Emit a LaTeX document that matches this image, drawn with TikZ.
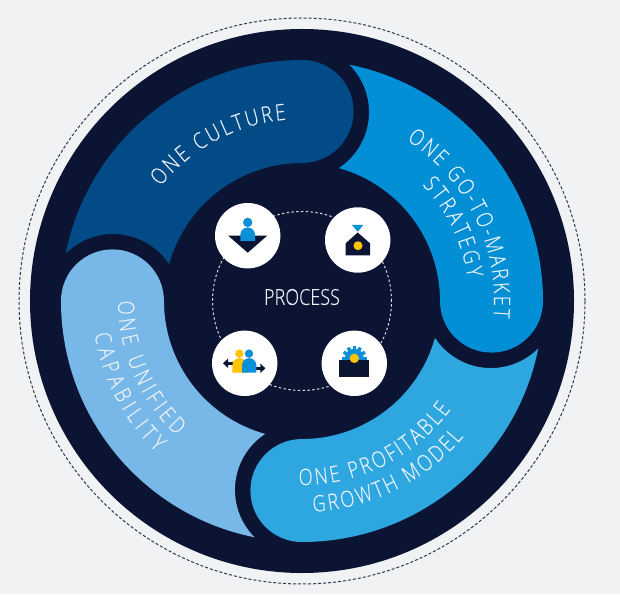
\documentclass[tikz,border=0pt]{standalone}
\usepackage{fontspec}
\usepackage{tikz}
\usetikzlibrary{decorations.text}
\usetikzlibrary{arrows.meta}
\newfontfamily\bandfont[FakeStretch=0.82, FakeBold=0.2]{Open Sans Light}
\definecolor{pagebg}{HTML}{F1F2F4}
\definecolor{navy}{HTML}{0C1433}
\definecolor{culture}{HTML}{024B87}
\definecolor{market}{HTML}{028FD5}
\definecolor{growth}{HTML}{2EA6E0}
\definecolor{unified}{HTML}{78B8E8}
\definecolor{iconblue}{HTML}{0A8FD8}
\definecolor{iconyellow}{HTML}{FFC400}
\definecolor{labelgrey}{HTML}{EAF2F8}
\newcommand{\bandtext}{\bandfont\fontsize{22.5}{26}\selectfont\color{labelgrey}}
\tikzset{
  iconcircle/.style={circle, fill=white, minimum size=65.4pt, inner sep=0pt},
  bandlabel/.style={decorate, decoration={text along path, text align={fit to path}}},
}
\begin{document}
\begin{tikzpicture}[x=1pt, y=1pt]
                \useasboundingbox (-302, -293) rectangle (318, 301);
                \fill[pagebg] (-302, -293) rectangle (318, 301);

                % Outer rings
                \draw[navy!85!white, line width=1pt, dash pattern=on 3pt off 2pt] (0, 0) circle (283);
                \fill[navy] (0, 0) circle (272);

                % Four bands, each with its round end at \a and its cut end 90 degrees on
                \foreach \a/\col in {90/culture, 180/unified, 270/growth, 0/market} {
                    \fill[\col] (\a:241)
                        arc[start angle=\a, end angle=\a+78.65, radius=241]
                        arc[start angle=\a+45, end angle=\a-56.7, radius=67]
                        arc[start angle=\a+74.53, end angle=\a, radius=138]
                        arc[start angle=\a+180, end angle=\a+360, radius=51.5];
                }

                % Band labels
                \path[bandlabel, decoration={text={|\bandtext|ONE CULTURE}}] (141:182) arc[start angle=141, end angle=95, radius=182];
                \path[bandlabel, decoration={text={|\bandtext|ONE GO-TO-MARKET}}] (57:192) arc[start angle=57, end angle=-5, radius=192];
                \path[bandlabel, decoration={text={|\bandtext|STRATEGY}}] (44:167) arc[start angle=44, end angle=8, radius=167];
                \path[bandlabel, decoration={text={|\bandtext|ONE PROFITABLE}}] (-91:184) arc[start angle=-91, end angle=-36, radius=184];
                \path[bandlabel, decoration={text={|\bandtext|GROWTH MODEL}}] (-87:211) arc[start angle=-87, end angle=-40, radius=211];
                \path[bandlabel, decoration={text={|\bandtext|ONE UNIFIED}}] (180:184) arc[start angle=180, end angle=227, radius=184];
                \path[bandlabel, decoration={text={|\bandtext|CAPABILITY}}] (189:210) arc[start angle=189, end angle=226, radius=210];

                % Inner ring and label
                \draw[white!85!navy, line width=1pt, dash pattern=on 2.4pt off 2.4pt] (0, 0) circle (89.5);
                \node[text=labelgrey, font=\bandfont\fontsize{22}{26}\selectfont] (process) at (0, 4) {PROCESS};

                \node[iconcircle] (person) at (-54.3, 65.3) {};
                \node[iconcircle] (house) at (55.7, 61) {};
                \node[iconcircle] (team) at (-57.3, -62.3) {};
                \node[iconcircle] (gear) at (52.3, -62.3) {};

                % Person over triangle
                \begin{scope}[shift={(person)}]
                    \fill[navy] (-19.5, 0) -- (19.5, 0) -- (0, -17) -- cycle;
                    \fill[iconblue] (0, 13.3) circle (4.7);
                    \fill[iconblue] (-7.3, -5.3) -- (-7.3, 1) arc[start angle=180, end angle=0, radius=7.3] -- (7.3, -5.3) -- cycle;
                \end{scope}

                % House under funnel
                \begin{scope}[shift={(house)}]
                    \fill[iconblue] (-5.7, 15) -- (5.7, 15) -- (0, 8.3) -- cycle;
                    \fill[navy] (-12, -3.3) -- (0, 7.5) -- (12.3, -3.3) -- (12.3, -15.3) -- (-12, -15.3) -- cycle;
                    \fill[iconyellow] (0.3, -5.7) circle (4.5);
                \end{scope}

                % Two people with arrows
                \begin{scope}[shift={(team)}]
                    \draw[navy, line width=2.6pt, -{Triangle[length=5pt, width=9pt]}] (-12, 0) -- (-21.7, 0);
                    \draw[navy, line width=2.6pt, -{Triangle[length=5pt, width=9pt]}] (11, -5) -- (20.7, -5);
                    \fill[iconyellow] (-5.3, 9.7) circle (4.2);
                    \fill[iconyellow] (-12.3, -9.3) -- (-12.3, -2) arc[start angle=180, end angle=0, radius=7.2] -- (2.1, -9.3) -- cycle;
                    \fill[iconblue] (4.3, 9.7) circle (4.2);
                    \fill[iconblue] (-2.7, -9.3) -- (-2.7, -2) arc[start angle=180, end angle=0, radius=7.2] -- (11.7, -9.3) -- cycle;
                \end{scope}

                % Gear over box
                \begin{scope}[shift={(gear)}]
                    \fill[iconblue] (0, 5) circle (9.5);
                    \foreach \t in {0, 30, ..., 180} {
                        \draw[iconblue, line width=3.4pt] (0, 5) -- ++(\t:12.3);
                    }
                    \fill[navy] (-15, 3.3) rectangle (15, -13.3);
                    \fill[iconyellow] (0, 5) circle (4.7);
                \end{scope}
            \end{tikzpicture}
\end{document}
